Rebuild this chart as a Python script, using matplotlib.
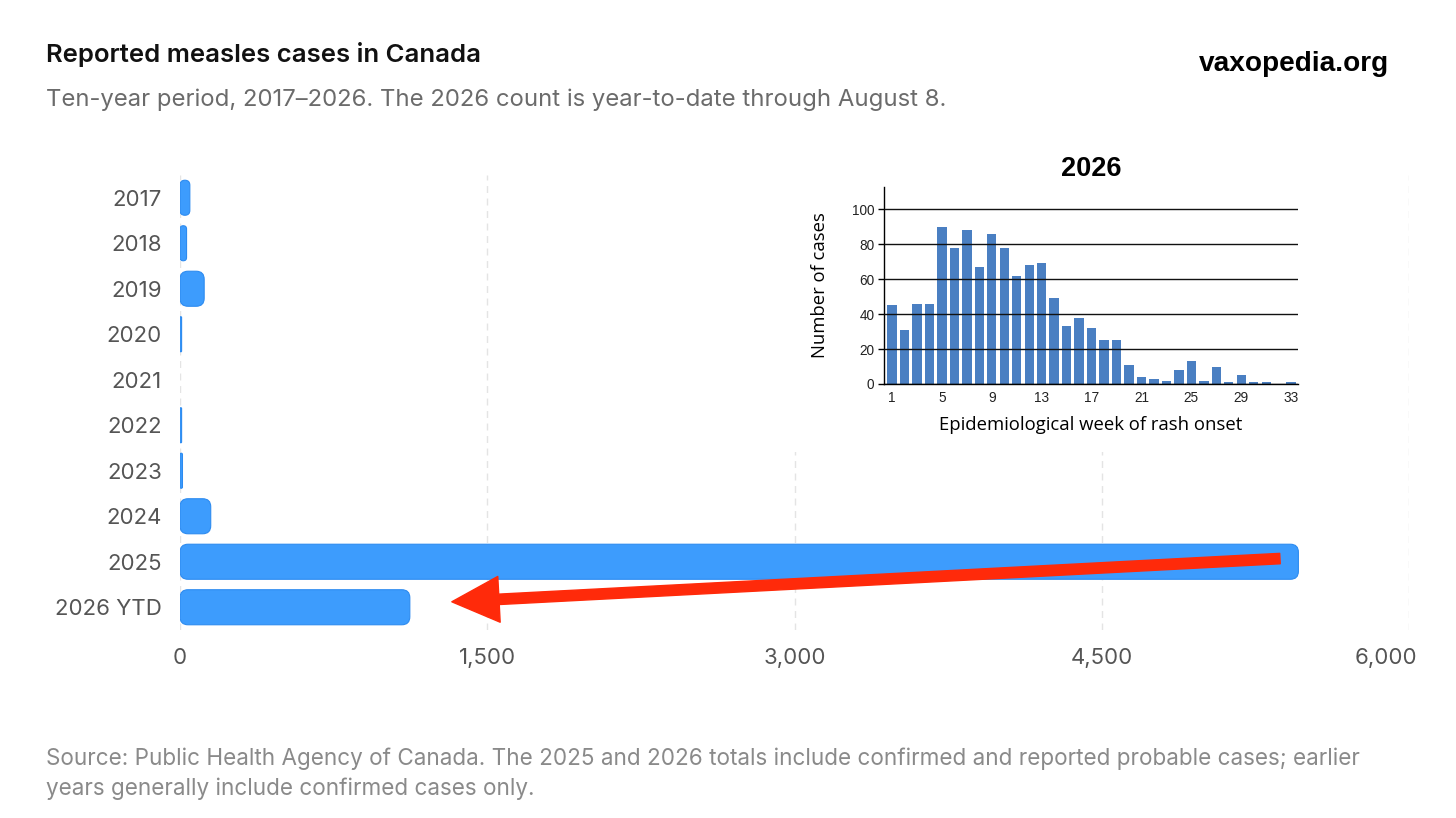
import matplotlib.pyplot as plt
from matplotlib.patches import FancyBboxPatch, FancyArrowPatch, ArrowStyle
from matplotlib.transforms import ScaledTranslation

# yearly totals
years = ['2017', '2018', '2019', '2020', '2021', '2022', '2023', '2024', '2025', '2026 YTD']
cases = [48, 32, 118, 1, 0, 3, 12, 150, 5460, 1122]
xticks = [0, 1500, 3000, 4500, 6000]

# inset: 2026 cases by epidemiological week
weeks = list(range(1, 34))
weekly = [45, 31, 46, 46, 90, 78, 88, 67, 86, 78, 62, 68, 69, 49, 33, 38, 32,
          25, 25, 11, 4, 3, 2, 8, 13, 2, 10, 1, 5, 1, 1, 0, 1]
week_ticks = [1, 5, 9, 13, 17, 21, 25, 29, 33]

W, H = 1456, 818
fig = plt.figure(figsize=(W / 100, H / 100), dpi=100)
fig.patch.set_facecolor('white')

ui = 'Inter'

# header / footer
fig.text(46 / W, 1 - 62 / H, 'Reported measles cases in Canada', fontsize=18.5,
         fontweight='semibold', family=ui, color='#111111')
fig.text(46 / W, 1 - 106 / H,
         'Ten-year period, 2017\u20132026. The 2026 count is year-to-date through August 8.',
         fontsize=17.2, family=ui, color='#6b6b6b')
fig.text(1389 / W, 1 - 71 / H, 'vaxopedia.org', fontsize=20.2, fontweight='bold',
         family='Liberation Sans', color='black', ha='right')
fig.text(46 / W, 1 - 765 / H,
         'Source: Public Health Agency of Canada. The 2025 and 2026 totals include confirmed '
         'and reported probable cases; earlier',
         fontsize=16.2, family=ui, color='#8a8a8a')
fig.text(46 / W, 1 - 795 / H, 'years generally include confirmed cases only.',
         fontsize=16.2, family=ui, color='#8a8a8a')

# main horizontal bar chart
ax = fig.add_axes([180 / W, 1 - 630 / H, 1229 / W, 455 / H])
ax.set_xlim(0, 6000)
ax.set_ylim(len(years) - 0.5, -0.5)
for s in ax.spines.values():
    s.set_visible(False)
ax.set_xticks(xticks)
ax.set_xticklabels([f'{t:,}' for t in xticks])
ax.set_yticks(range(len(years)))
ax.set_yticklabels(years)
ax.tick_params(length=0, labelsize=16, labelcolor='#555555')
ax.tick_params(axis='x', pad=13)
ax.tick_params(axis='y', pad=13)
for lab in ax.get_xticklabels() + ax.get_yticklabels():
    lab.set_family(ui)
# last x label sits a little inside the right edge
last = ax.get_xticklabels()[-1]
last.set_horizontalalignment('right')
last.set_transform(last.get_transform() + ScaledTranslation(8 / 100, 0, fig.dpi_scale_trans))
ax.xaxis.grid(True, color='#e4e4e4', lw=1, ls=(0, (5, 4)))
ax.set_axisbelow(True)

p0 = ax.transData.transform((0, 0))
p1 = ax.transData.transform((1, 1))
sx = abs(p1[0] - p0[0])
sy = abs(p1[1] - p0[1])
bar_h = 0.77
for i, v in enumerate(cases):
    if v <= 0:
        continue
    w_px = max(v * sx, 1.6)
    r = min(8, w_px / 2, bar_h * sy / 2)
    box = FancyBboxPatch((0, i - bar_h / 2), w_px / sx, bar_h,
                         boxstyle=f'round,pad=0,rounding_size={r / sx}',
                         mutation_aspect=sx / sy, fc='#3d9cfd', ec='#2d8bf0',
                         lw=0.8, zorder=3)
    ax.add_patch(box)

# red arrow from 2025 bar back to 2026 bar
arrow = FancyArrowPatch((cases[8] - 90, 7.93), (cases[9] + 205, 8.88),
                        arrowstyle=ArrowStyle.Simple(head_length=34, head_width=33,
                                                     tail_width=7.5),
                        mutation_scale=1, color='#ff2a0a', shrinkA=0, shrinkB=0,
                        zorder=6)
ax.add_patch(arrow)

# white panel behind inset
bg = fig.add_axes([788 / W, 1 - 452 / H, (1312 - 788) / W, (452 - 140) / H], zorder=2)
bg.set_facecolor('white')
bg.set_xticks([])
bg.set_yticks([])
for s in bg.spines.values():
    s.set_visible(False)

# inset histogram
ins = fig.add_axes([884 / W, 1 - 384 / H, 414 / W, 197 / H], zorder=3)
ins.set_facecolor('white')
ins.bar(weeks, weekly, width=0.75, color='#4a7fc2', zorder=2)
ins.set_xlim(0.36, 33.55)
ins.set_ylim(0, 112.6)
ins.set_yticks(range(0, 101, 20))
ins.set_xticks(week_ticks)
ins.yaxis.grid(True, color='#111111', lw=1)
ins.set_axisbelow(False)
ins.spines['top'].set_visible(False)
ins.spines['right'].set_visible(False)
ins.spines['left'].set_linewidth(1)
ins.spines['bottom'].set_linewidth(1)
ins.tick_params(axis='y', length=4, width=1, labelsize=9.8, pad=3)
ins.tick_params(axis='x', length=0, labelsize=9.8, pad=5)
for lab in ins.get_xticklabels() + ins.get_yticklabels():
    lab.set_family('Liberation Sans')
    lab.set_color('#222222')
ins.set_title('2026', fontsize=19.5, fontweight='bold', family='Liberation Sans', pad=8)
ins.set_ylabel('Number of cases', fontsize=13.3, family='Open Sans')
ins.set_xlabel('Epidemiological week of rash onset', fontsize=13.3, family='Open Sans')
ins.yaxis.set_label_coords(-0.133, 0.5)
ins.xaxis.set_label_coords(0.5, -0.16)

fig.savefig('out.png', dpi=100, facecolor='white')
